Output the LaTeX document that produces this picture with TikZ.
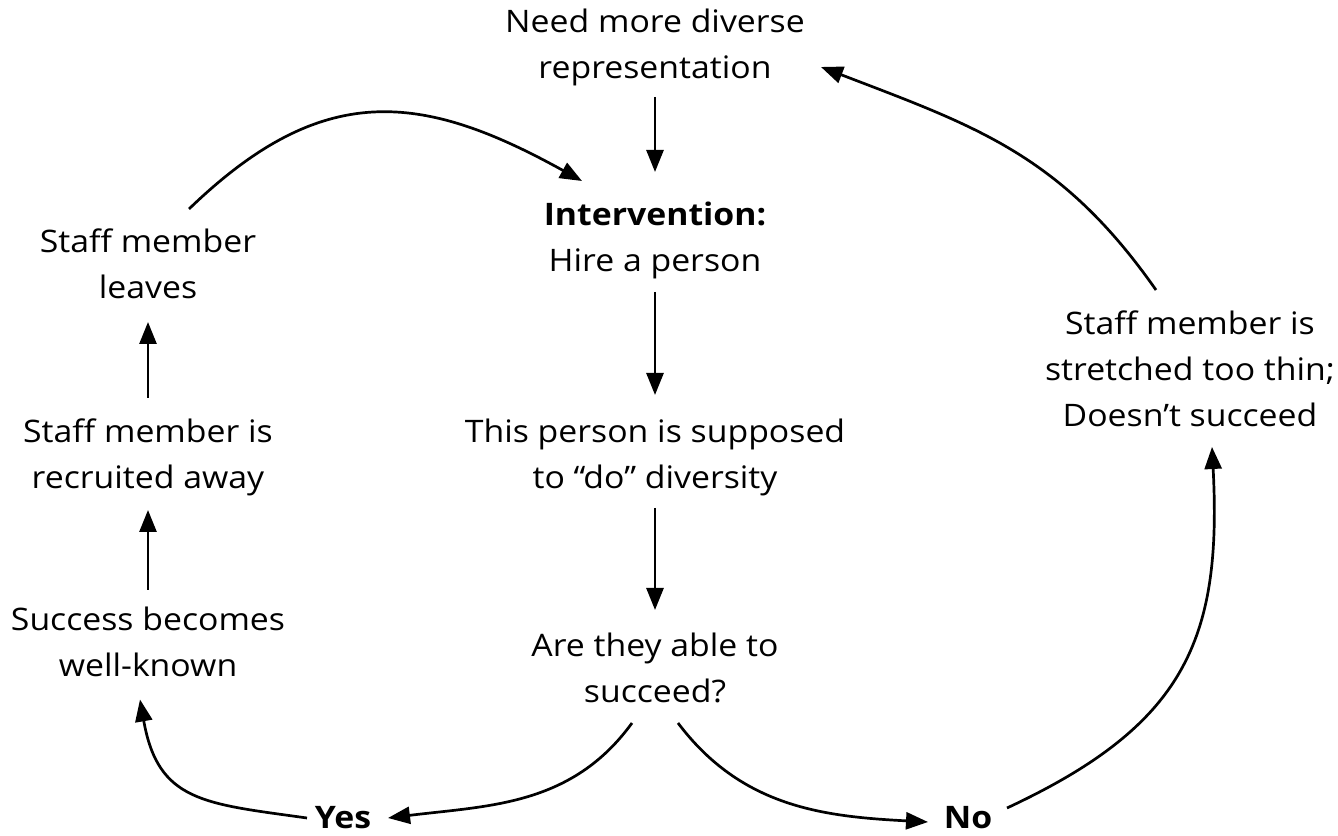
\documentclass[tikz,border=0pt]{standalone}
\usepackage{fontspec}
\setmainfont{Open Sans}[FakeStretch=1.09]
\usetikzlibrary{arrows.meta}
% fixed-height strut so multi-line labels have predictable boxes
\newcommand\lnstrut{\rule[-10pt]{0pt}{34pt}}
\begin{document}
\begin{tikzpicture}[x=1pt,y=1pt,
  lbl/.style={inner sep=0pt, align=center, font=\fontsize{31}{46}\selectfont,
    execute at begin node=\lnstrut, execute at end node=\lnstrut},
  ans/.style={inner sep=0pt, anchor=base, font=\fontsize{31}{46}\selectfont\bfseries},
  arr/.style={-{Triangle[length=22pt,width=17pt]}, line width=2.7pt}]
\path[fill=white, use as bounding box] (0,0) rectangle (1338,835);

% central column
\node[lbl] (top)  at (655,786) {Need more diverse\\representation};
\node[lbl] (int)  at (655,593) {\textbf{Intervention:}\\Hire a person};
\node[lbl] (this) at (655,376) {This person is supposed\\to “do” diversity};
\node[lbl] (are)  at (655,162) {Are they able to\\succeed?};

% left column
\node[lbl] (leaves) at (148,566) {Staff member\\leaves};
\node[lbl] (recr)   at (148,376) {Staff member is\\recruited away};
\node[lbl] (succ)   at (148,188) {Success becomes\\well-known};

% right column
\node[lbl] (right) at (1190,461) {Staff member is\\stretched too thin;\\Doesn’t succeed};

% outcomes
\node[ans] (yes) at (343,6) {Yes};
\node[ans] (no)  at (968,6) {No};

% straight connectors
\draw[arr] ([yshift=-48pt]top.center) -- ([yshift=70pt]int.center);
\draw[arr] ([yshift=-50pt]int.center) -- ([yshift=64pt]this.center);
\draw[arr] ([yshift=-49pt]this.center) -- ([yshift=63pt]are.center);
\draw[arr] ([yshift=61pt]recr.center) -- ([yshift=-53pt]leaves.center);
\draw[arr] ([yshift=57pt]succ.center) -- ([yshift=-51pt]recr.center);

% curved connectors
\draw[arr] ([shift={(41,60)}]leaves.center) to[out=44,in=151,looseness=1.2] ([shift={(-73,61)}]int.center);
\draw[arr] ([shift={(-23,-50)}]are.center) to[out=-126,in=7] ([shift={(45,11)}]yes.base);
\draw[arr] ([shift={(23,-50)}]are.center) to[out=-53,in=177] ([shift={(-40,7)}]no.base);
\draw[arr] ([shift={(-36,11)}]yes.base) to[out=172,in=-80,looseness=1.3] ([shift={(-8,-52.5)}]succ.center);
\draw[arr] ([shift={(39,21)}]no.base) to[out=25,in=-87,looseness=1.2] ([shift={(22,-73)}]right.center);
\draw[arr] ([shift={(-34,84)}]right.center) to[out=125,in=-21,looseness=1.05] ([shift={(166,-18)}]top.center);
\end{tikzpicture}
\end{document}
